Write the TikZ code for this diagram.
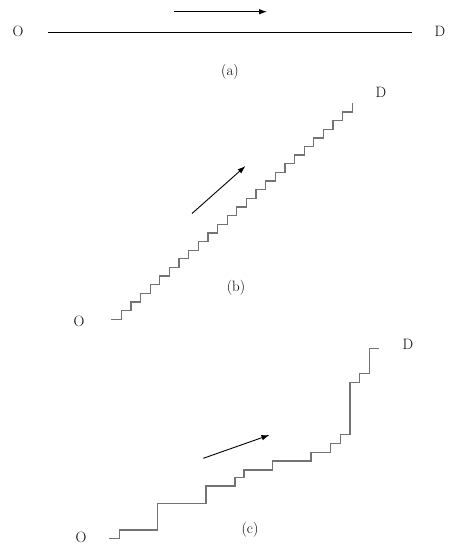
\documentclass[tikz,border=0pt]{standalone}
\usetikzlibrary{arrows.meta}
\begin{document}
\begin{tikzpicture}[x=1pt,y=-1pt,
  lbl/.style={font=\fontsize{15}{17}\selectfont, inner sep=0pt},
  stair/.style={draw=black!55, line width=1.3pt},
  route/.style={draw=black, line width=0.9pt},
  dirarrow/.style={draw=black, line width=0.9pt, -{Latex[length=8pt,width=5.5pt]}}]
\useasboundingbox (0,0) rectangle (452,550);
% (a)
\node[lbl] (Oa) at (18,31) {O};
\node[lbl] (Da) at (440,31) {D};
\coordinate (a1) at (48,32.3);
\coordinate (a2) at (412,32.3);
\draw[route] (a1) -- (a2);
\coordinate (aa1) at (174,11.7);
\coordinate (aa2) at (267,11.7);
\draw[dirarrow] (aa1) -- (aa2);
\node[lbl] (capa) at (230,72) {(a)};
% (b)
\node[lbl] (Ob) at (79,321) {O};
\node[lbl] (Db) at (381,92) {D};
\coordinate (b0) at (111.3,319.3);
\draw[stair] (b0) -- ++(10,0)
  \foreach \i in {1,...,24} { -- ++(0,-8.64) -- ++(9.625,0) } -- ++(0,-8.64) coordinate (b1);
\coordinate (ba1) at (192,213.5);
\coordinate (ba2) at (245.5,166);
\draw[dirarrow] (ba1) -- (ba2);
\node[lbl] (capb) at (236,288) {(b)};
% (c)
\node[lbl] (Oc) at (81,537) {O};
\node[lbl] (Dc) at (408,344) {D};
\coordinate (c0) at (109.3,538.3);
\draw[stair] (c0) -- (119.3,538.3) -- (119.3,530) -- (157.7,530) -- (157.7,503.3)
  -- (206,503.3) -- (206,486) -- (235,486) -- (235,477.3) -- (244,477.3) -- (244,470)
  -- (272.7,470) -- (272.7,461) -- (311,461) -- (311,452.3) -- (330.7,452.3) -- (330.7,443.3)
  -- (340.7,443.3) -- (340.7,434.3) -- (350,434.3) -- (350,382.3) -- (359.3,382.3)
  -- (359.3,373.7) -- (369.3,373.7) -- (369.3,348.3) -- (379.3,348.3) coordinate (c1);
\coordinate (ca1) at (203.3,458.3);
\coordinate (ca2) at (269.5,435);
\draw[dirarrow] (ca1) -- (ca2);
\node[lbl] (capc) at (250,530) {(c)};
\end{tikzpicture}
\end{document}
